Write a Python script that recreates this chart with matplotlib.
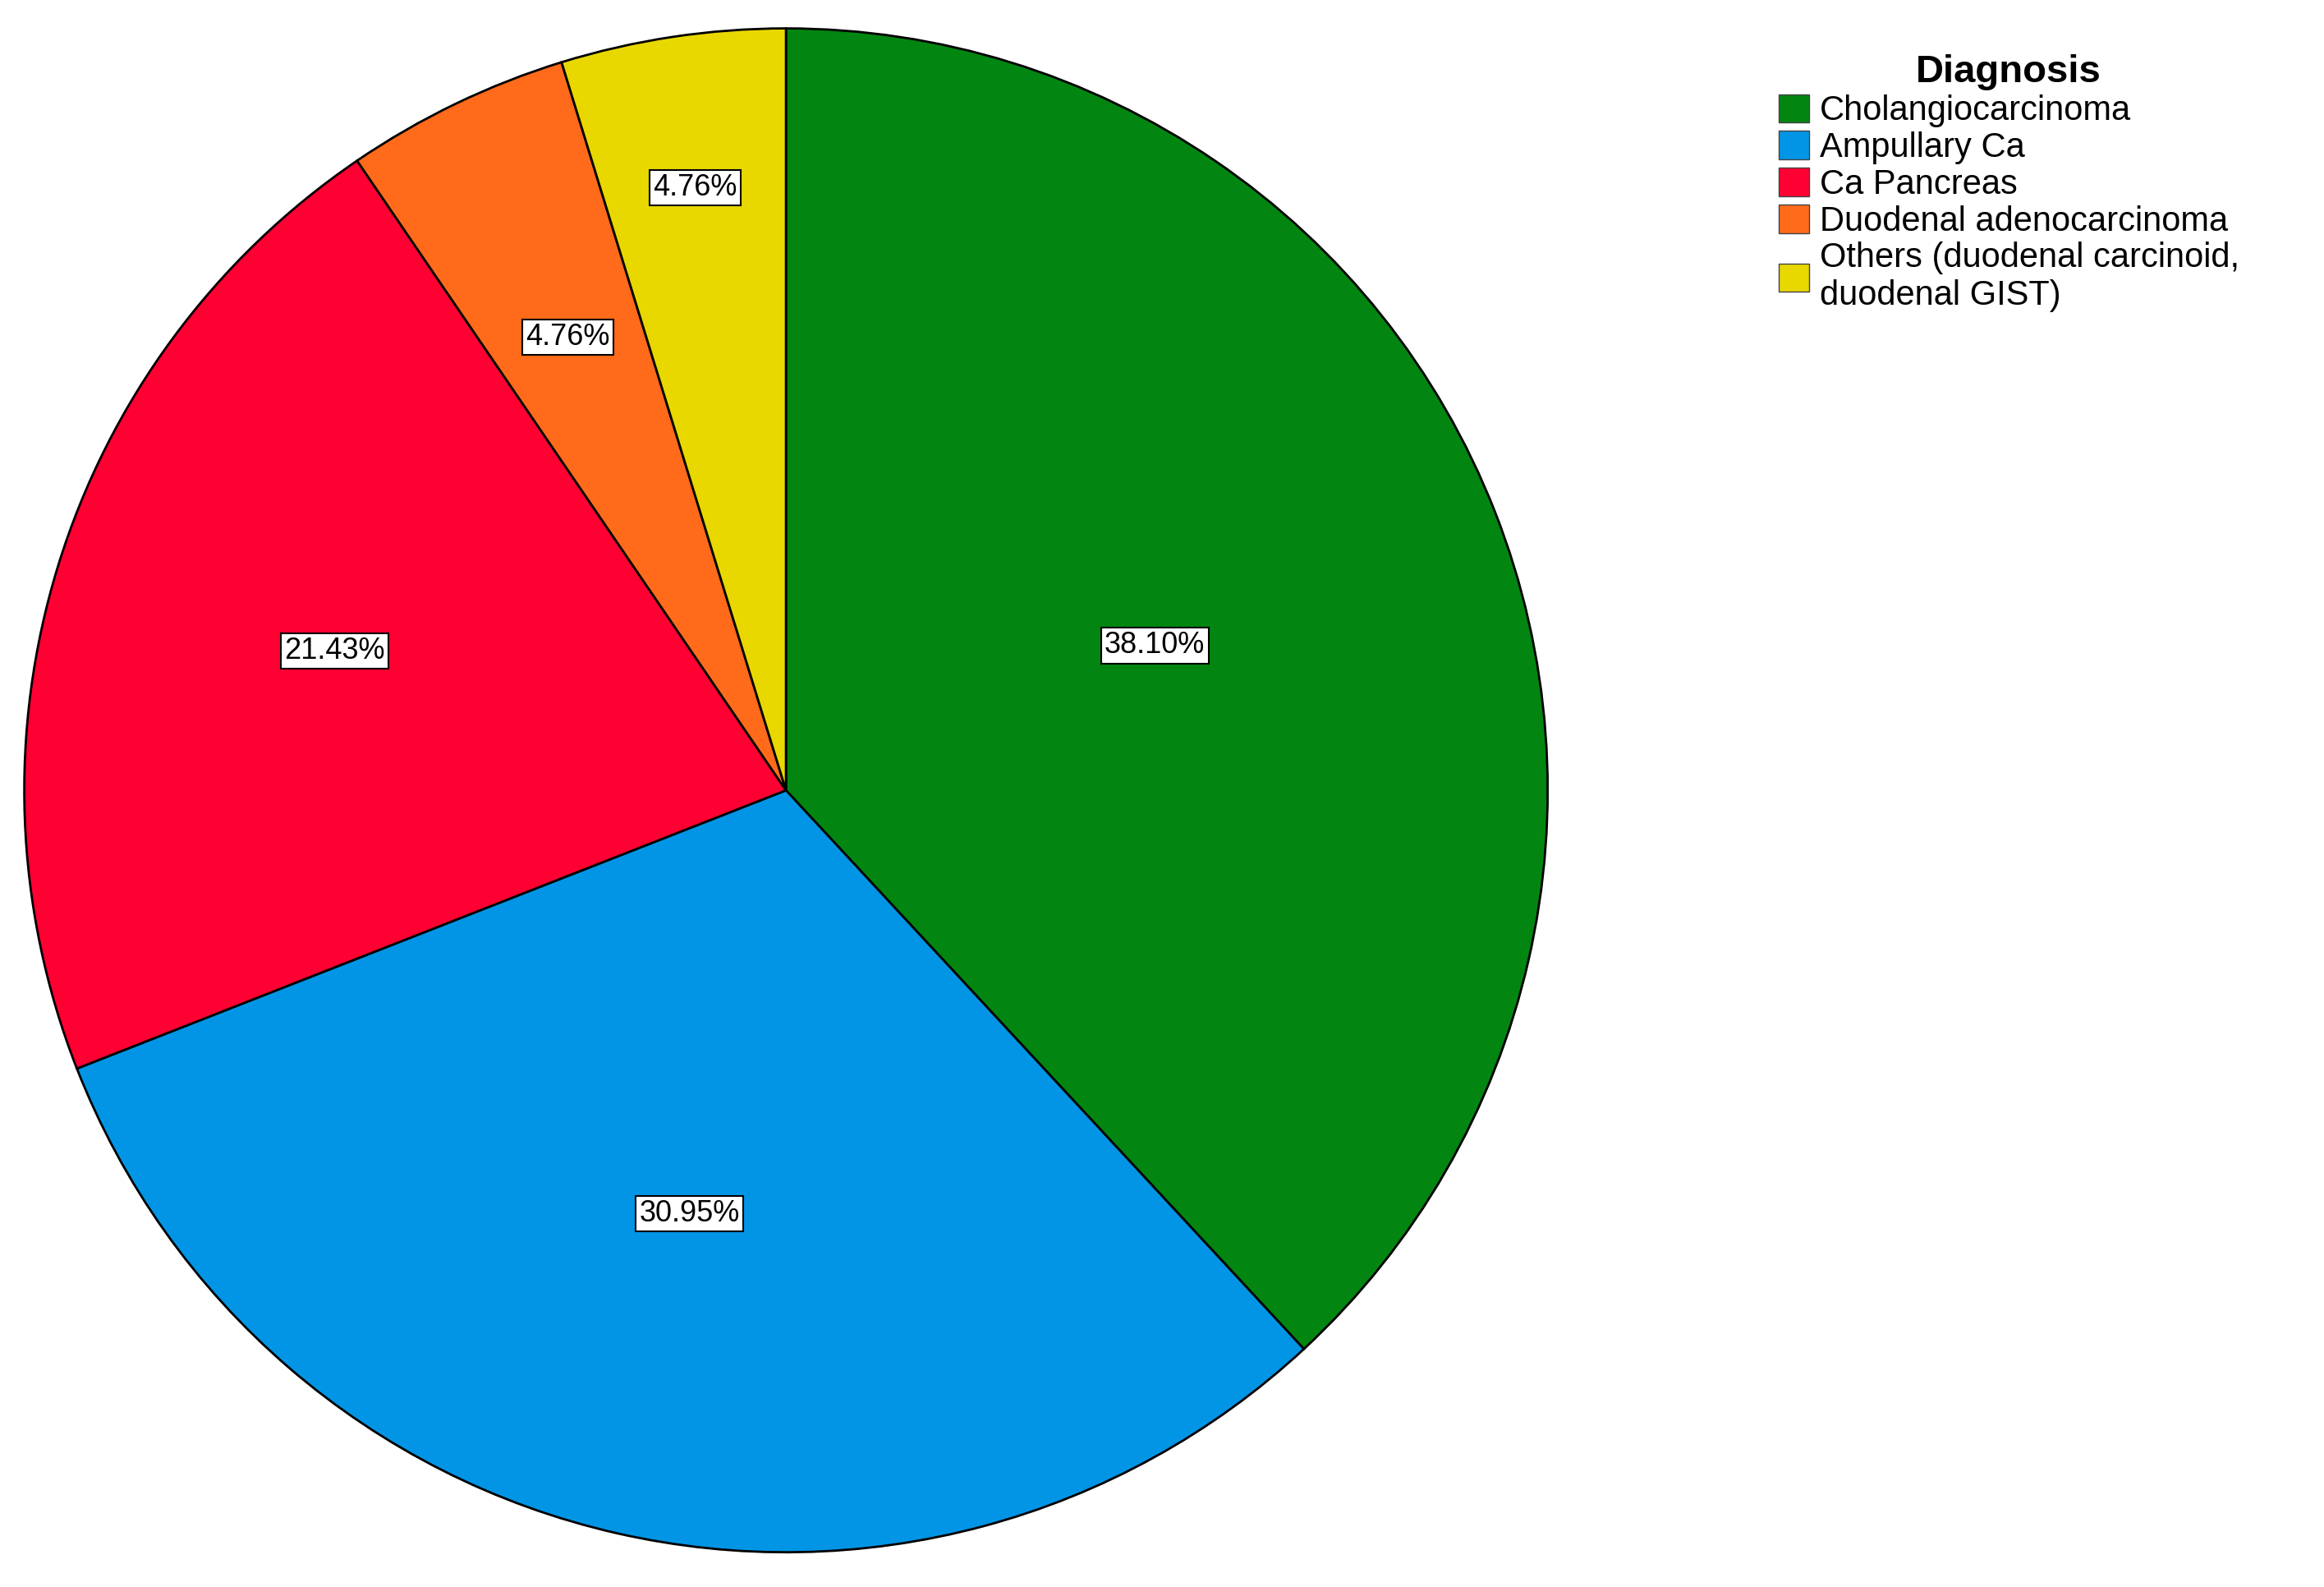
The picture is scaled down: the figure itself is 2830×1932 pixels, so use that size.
import numpy as np
import matplotlib.pyplot as plt
from matplotlib.patches import Patch

plt.rcParams["font.family"] = ["Liberation Sans", "DejaVu Sans"]

categories = ["Cholangiocarcinoma", "Ampullary Ca", "Ca Pancreas",
              "Duodenal adenocarcinoma", "Others (duodenal carcinoid,\nduodenal GIST)"]
values = [38.10, 30.95, 21.43, 4.76, 4.76]
colors = ["#028611", "#0295E6", "#FF0033", "#FF6A1B", "#E8D800"]
label_radius = [0.52, 0.57, 0.62, 0.66, 0.80]

fig = plt.figure(figsize=(28.3, 19.32), dpi=100)
ax = fig.add_axes([0.0087, 0.0195, 0.659, 0.965])
wedges, _ = ax.pie(values, colors=colors, startangle=90, counterclock=False,
                   wedgeprops=dict(edgecolor="black", linewidth=2))
ax.set_xlim(-1.005, 1.005)
ax.set_ylim(-1.005, 1.005)
ax.set_aspect("equal")

for w, v, r in zip(wedges, values, label_radius):
    ang = np.deg2rad((w.theta1 + w.theta2) / 2)
    ax.text(r * np.cos(ang), r * np.sin(ang), f"{v:.2f}%", ha="center", va="center",
            fontsize=26, bbox=dict(facecolor="white", edgecolor="black", pad=3, linewidth=1.5))

handles = [Patch(facecolor=c, edgecolor="#444444") for c in colors]
leg = fig.legend(handles, categories, loc="upper left", bbox_to_anchor=(0.752, 0.985),
                 title="Diagnosis", frameon=False, fontsize=30, handlelength=0.9,
                 handleheight=0.9, handletextpad=0.3, labelspacing=0.1)
leg.get_title().set_fontsize(34)
leg.get_title().set_fontweight("bold")

fig.savefig("out.png", dpi=100)
